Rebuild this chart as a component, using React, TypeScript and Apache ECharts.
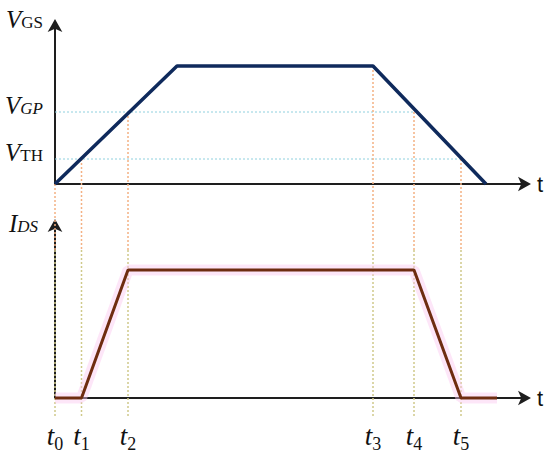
import React, { useEffect, useRef } from "react";
import * as echarts from "echarts";

// time marks t0..t5 (time units, 1 unit ≈ 1 px in the reference)
const T_NAMES = ["0", "1", "2", "3", "4", "5"];
const T_VALUES = [0, 26.5, 73, 318, 359, 406];
// VGS waveform
const VGS_TIME = [0, 122, 318, 431];
const VGS_VALUES = [0, 118, 118, 0];
// IDS waveform
const IDS_TIME = [0, 26.5, 73, 359, 406, 442];
const IDS_VALUES = [0, 0, 128, 128, 0, 0];
// VGS level at which each t guide starts
const GUIDE_TOP = [0, 25, 72, 118, 72, 25];
// threshold levels
const LEVEL_NAMES = ["GP", "TH"];
const LEVEL_ITALIC = [true, false];
const LEVEL_VALUES = [72, 25];
const LEVEL_END = [359, 406];

const SERIF = "Liberation Serif";

export default function App() {
  const ref = useRef<HTMLDivElement>(null);
  useEffect(() => {
    const chart = echarts.init(ref.current!, null, { renderer: "svg" });
    const axisLine = (arrow: boolean) => ({
      show: true,
      symbol: arrow ? ["none", "arrow"] : "none",
      symbolSize: [11, 13],
      symbolOffset: [0, 6],
      lineStyle: { color: "#1e1e1e", width: 2 },
    });
    const series: any[] = [];
    // horizontal level guides
    LEVEL_VALUES.forEach((v, i) => {
      series.push({
        type: "line", xAxisIndex: 0, yAxisIndex: 0, silent: true, symbol: "none", clip: false,
        data: [[0, v], [LEVEL_END[i], v]],
        lineStyle: { color: "#8fd0de", width: 1, type: [2, 2] },
        z: 1,
      });
    });
    // vertical time guides
    T_VALUES.forEach((t, i) => {
      series.push({
        type: "line", xAxisIndex: 0, yAxisIndex: 0, silent: true, symbol: "none", clip: false,
        data: [[t, GUIDE_TOP[i]], [t, -66]],
        lineStyle: { color: "#f4b183", width: 1.5, type: [2, 2] },
        z: 1,
      });
      series.push({
        type: "line", xAxisIndex: 1, yAxisIndex: 1, silent: true, symbol: "none", clip: false,
        data: [[t, 148], [t, -19]],
        lineStyle: { color: "#cfc98a", width: 1.5, type: [2, 2] },
        z: 1,
      });
    });
    series.push({
      type: "line", xAxisIndex: 0, yAxisIndex: 0, symbol: "none", clip: false,
      data: VGS_TIME.map((t, i) => [t, VGS_VALUES[i]]),
      lineStyle: { color: "#0f2a5c", width: 3.5 },
      z: 5,
    });
    series.push({
      type: "line", xAxisIndex: 1, yAxisIndex: 1, symbol: "none", clip: false,
      data: IDS_TIME.map((t, i) => [t, IDS_VALUES[i]]),
      lineStyle: { color: "rgba(250,200,240,0.45)", width: 11 },
      z: 3,
    });
    series.push({
      type: "line", xAxisIndex: 1, yAxisIndex: 1, symbol: "none", clip: false,
      data: IDS_TIME.map((t, i) => [t, IDS_VALUES[i]]),
      lineStyle: { color: "#6e2c10", width: 3 },
      z: 5,
    });

    const xName = {
      name: "t",
      nameLocation: "end" as const,
      nameGap: 12,
      nameTextStyle: { fontFamily: "Liberation Sans", fontSize: 22, color: "#111", verticalAlign: "middle" as const },
    };

    chart.setOption({
      animation: false,
      backgroundColor: "#fff",
      grid: [
        { left: 55, right: 25, top: 25, height: 159 },
        { left: 55, right: 25, top: 225, height: 173 },
      ],
      xAxis: [
        {
          type: "value", gridIndex: 0, min: 0, max: 470,
          axisLine: axisLine(true), axisTick: { show: false }, axisLabel: { show: false },
          splitLine: { show: false }, ...xName,
        },
        {
          type: "value", gridIndex: 1, min: 0, max: 470,
          axisLine: axisLine(true), axisTick: { show: false },
          splitLine: { show: false }, ...xName,
          axisLabel: {
            show: true,
            customValues: T_VALUES,
            margin: 24,
            formatter: (v: number) => {
              const i = T_VALUES.indexOf(v);
              return i < 0 ? "" : `{t|t}{s|${T_NAMES[i]}}`;
            },
            rich: {
              t: { fontFamily: SERIF, fontStyle: "italic", fontSize: 27, color: "#111", verticalAlign: "bottom", padding: [0, 0, 4, 0] },
              s: { fontFamily: SERIF, fontSize: 18, color: "#111", verticalAlign: "bottom" },
            },
          },
        },
      ],
      yAxis: [
        {
          type: "value", gridIndex: 0, min: 0, max: 159,
          axisLine: axisLine(true), axisTick: { show: false }, splitLine: { show: false },
          axisLabel: {
            show: true,
            customValues: LEVEL_VALUES,
            margin: 12,
            verticalAlign: "middle",
            padding: [0, 0, 13, 0],
            formatter: (v: number) => {
              const i = LEVEL_VALUES.indexOf(v);
              if (i < 0) return "";
              return `{v|V}{${LEVEL_ITALIC[i] ? "si" : "s"}|${LEVEL_NAMES[i]}}`;
            },
            rich: {
              v: { fontFamily: SERIF, fontStyle: "italic", fontSize: 25, color: "#111", verticalAlign: "bottom" },
              s: { fontFamily: SERIF, fontSize: 17, color: "#111", verticalAlign: "bottom", padding: [0, 0, 1, 0] },
              si: { fontFamily: SERIF, fontStyle: "italic", fontSize: 17, color: "#111", verticalAlign: "bottom", padding: [0, 0, 1, 0] },
            },
          },
          name: "{v|V}{s|GS}",
          nameLocation: "end",
          nameGap: 6,
          nameTextStyle: {
            align: "right", verticalAlign: "middle", padding: [0, 12, 0, 0],
            rich: {
              v: { fontFamily: SERIF, fontStyle: "italic", fontSize: 25, color: "#111", verticalAlign: "bottom" },
              s: { fontFamily: SERIF, fontSize: 17, color: "#111", verticalAlign: "bottom", padding: [0, 0, 1, 0] },
            },
          },
        },
        {
          type: "value", gridIndex: 1, min: 0, max: 173,
          axisLine: axisLine(true), axisTick: { show: false }, splitLine: { show: false },
          axisLabel: { show: false },
          name: "{v|I}{s|DS}",
          nameLocation: "end",
          nameGap: 2,
          nameTextStyle: {
            align: "right", verticalAlign: "middle", padding: [0, 17, 0, 0],
            rich: {
              v: { fontFamily: SERIF, fontStyle: "italic", fontSize: 25, color: "#111", verticalAlign: "bottom" },
              s: { fontFamily: SERIF, fontStyle: "italic", fontSize: 17, color: "#111", verticalAlign: "bottom", padding: [0, 0, 1, 0] },
            },
          },
        },
      ],
      series,
    });
    return () => chart.dispose();
  }, []);
  return <div ref={ref} style={{ width: 550, height: 459, position: "absolute", left: 0, top: 0 }} />;
}
